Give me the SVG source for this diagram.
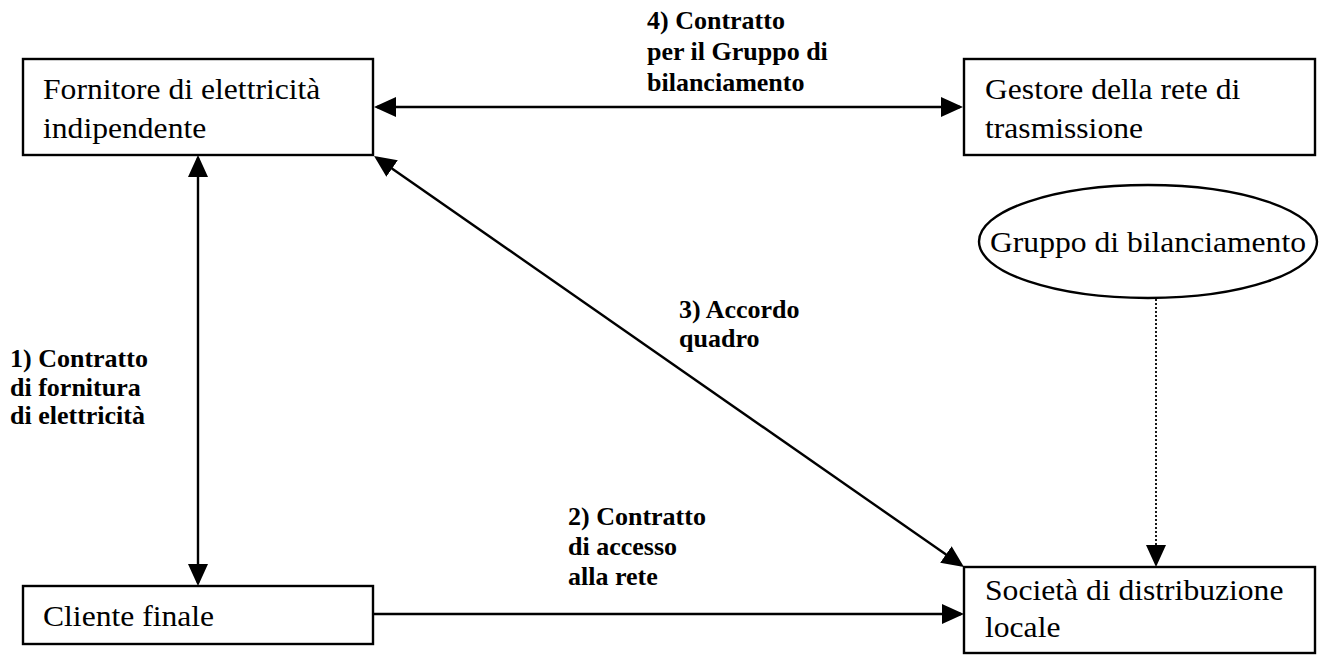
<svg xmlns="http://www.w3.org/2000/svg" width="1324" height="664" viewBox="0 0 1324 664">
<style>
  .box { fill: #fff; stroke: #000; stroke-width: 2.4; }
  .t { font-family: "Liberation Serif", "Times New Roman", serif; font-size: 29px; fill: #000; }
  .lbl { font-family: "Liberation Serif", "Times New Roman", serif; font-size: 26px; font-weight: bold; fill: #000; }
  .conn { fill: none; stroke: #000; stroke-width: 2.4; }
  .dot { fill: none; stroke: #000; stroke-width: 1.8; stroke-dasharray: 2 2; }
</style>
<defs>
  <marker id="arr" markerUnits="userSpaceOnUse" markerWidth="22" markerHeight="20" refX="19" refY="10" orient="auto-start-reverse" viewBox="0 0 22 20">
    <path d="M0,0 L22,10 L0,20 z" fill="#000"/>
  </marker>
</defs>
<rect width="1324" height="664" fill="#fff"/>

<g id="fornitore">
  <rect class="box" x="23" y="59" width="350" height="96"/>
  <text class="t" transform="matrix(1.09 0 0 1 43 99)">Fornitore di elettricità</text>
  <text class="t" transform="matrix(1.09 0 0 1 43 138)">indipendente</text>
</g>
<g id="gestore">
  <rect class="box" x="964" y="59" width="351" height="96"/>
  <text class="t" transform="matrix(1.09 0 0 1 985 99)">Gestore della rete di</text>
  <text class="t" transform="matrix(1.09 0 0 1 985 138)">trasmissione</text>
</g>
<g id="gruppo">
  <ellipse class="box" cx="1148" cy="241.5" rx="169" ry="56.5"/>
  <text class="t" text-anchor="middle" transform="matrix(1.09 0 0 1 1148 252)">Gruppo di bilanciamento</text>
</g>
<g id="cliente">
  <rect class="box" x="23" y="586" width="350" height="58"/>
  <text class="t" transform="matrix(1.09 0 0 1 43 626)">Cliente finale</text>
</g>
<g id="societa">
  <rect class="box" x="964" y="567" width="351" height="86"/>
  <text class="t" transform="matrix(1.09 0 0 1 985 600)">Società di distribuzione</text>
  <text class="t" transform="matrix(1.09 0 0 1 985 637)">locale</text>
</g>

<g id="connectors">
  <line class="conn" x1="377" y1="107" x2="960" y2="107" marker-start="url(#arr)" marker-end="url(#arr)"/>
  <line class="conn" x1="198" y1="158" x2="198" y2="583" marker-start="url(#arr)" marker-end="url(#arr)"/>
  <line class="conn" x1="376.5" y1="157.7" x2="961.5" y2="565.3" marker-start="url(#arr)" marker-end="url(#arr)"/>
  <line class="conn" x1="373" y1="614" x2="961" y2="614" marker-end="url(#arr)"/>
  <line class="dot" x1="1156" y1="299" x2="1156" y2="564" marker-end="url(#arr)"/>
</g>

<g id="labels">
  <text class="lbl" x="647" y="29">4) Contratto</text>
  <text class="lbl" x="647" y="60">per il Gruppo di</text>
  <text class="lbl" x="647" y="91">bilanciamento</text>

  <text class="lbl" x="10" y="367">1) Contratto</text>
  <text class="lbl" x="10" y="396">di fornitura</text>
  <text class="lbl" x="10" y="424">di elettricità</text>

  <text class="lbl" x="679" y="318">3) Accordo</text>
  <text class="lbl" x="679" y="347">quadro</text>

  <text class="lbl" x="568" y="525">2) Contratto</text>
  <text class="lbl" x="568" y="555">di accesso</text>
  <text class="lbl" x="568" y="585">alla rete</text>
</g>
</svg>
